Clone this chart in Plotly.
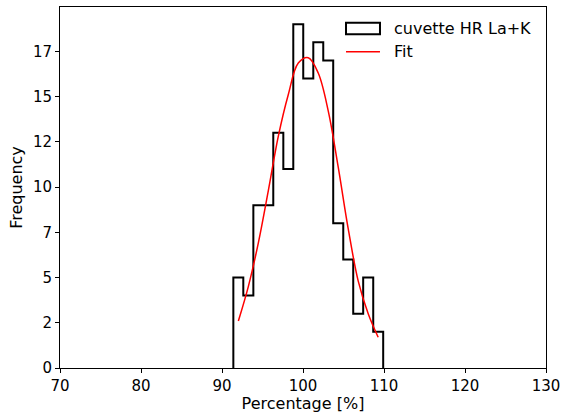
import plotly.graph_objects as go

# Histogram data
bin_edges = [91.4, 92.63, 93.87, 95.1, 96.33, 97.57, 98.8, 100.03, 101.27,
             102.5, 103.73, 104.97, 106.2, 107.43, 108.67, 109.9]
counts = [5, 4, 9, 9, 13, 11, 19, 16, 18, 17, 8, 6, 3, 5, 2]

# Fit curve, read at bin centres
fit_x = [92.02, 93.25, 94.48, 95.72, 96.95, 98.18, 99.42, 100.65, 101.88,
         103.12, 104.35, 105.58, 106.82, 108.05, 109.28]
fit_y = [2.6, 4.5, 6.9, 9.8, 12.8, 15.1, 16.85, 17.15, 16.3,
         14.2, 11.1, 7.7, 4.8, 3.0, 1.7]

y_tickvals = [0, 2.5, 5, 7.5, 10, 12.5, 15, 17.5]
y_ticktext = ["0", "2", "5", "7", "10", "12", "15", "17"]
x_tickvals = [70, 80, 90, 100, 110, 120, 130]
legend_labels = ["cuvette HR La+K", "Fit"]

# step outline
sx, sy = [bin_edges[0]], [0]
for i, c in enumerate(counts):
    sx += [bin_edges[i], bin_edges[i + 1]]
    sy += [c, c]
sx.append(bin_edges[-1])
sy.append(0)

fig = go.Figure()
fig.add_trace(go.Scatter(x=sx, y=sy, mode="lines",
                         line=dict(color="black", width=2),
                         name=legend_labels[0], showlegend=False))
fig.add_trace(go.Scatter(x=fit_x, y=fit_y, mode="lines",
                         line=dict(color="red", width=1.5, shape="spline"),
                         name=legend_labels[1], showlegend=False))

# manual legend (matplotlib style, no frame)
fig.add_shape(type="rect", xref="paper", yref="paper",
              x0=0.5885, x1=0.6584, y0=0.9244, y1=0.9565,
              line=dict(color="black", width=2), fillcolor="rgba(0,0,0,0)")
fig.add_shape(type="line", xref="paper", yref="paper",
              x0=0.5885, x1=0.6584, y0=0.8762, y1=0.8762,
              line=dict(color="red", width=1.5))
fig.add_annotation(xref="paper", yref="paper", x=0.6831, y=0.9404,
                   xanchor="left", yanchor="middle", showarrow=False,
                   text=legend_labels[0], font=dict(size=16, color="black"))
fig.add_annotation(xref="paper", yref="paper", x=0.6831, y=0.8762,
                   xanchor="left", yanchor="middle", showarrow=False,
                   text=legend_labels[1], font=dict(size=16, color="black"))

axis_common = dict(showline=True, linecolor="black", linewidth=1, mirror=True,
                   ticks="outside", ticklen=4, tickcolor="black",
                   showgrid=False, zeroline=False,
                   tickfont=dict(size=15, color="black"))
fig.update_xaxes(range=[70, 130], tickvals=x_tickvals,
                 title=dict(text="Percentage [%]", font=dict(size=16, color="black"), standoff=2),
                 **axis_common)
fig.update_yaxes(range=[0, 19.95], tickvals=y_tickvals, ticktext=y_ticktext,
                 title=dict(text="Frequency", font=dict(size=16, color="black"), standoff=6),
                 **axis_common)

fig.update_layout(width=561, height=413,
                  margin=dict(l=60, r=15, t=7, b=45, autoexpand=False),
                  paper_bgcolor="white", plot_bgcolor="white",
                  font=dict(family="DejaVu Sans", color="black"),
                  showlegend=False)

fig.write_html("out.html", config={"displayModeBar": False},
               post_script="document.body.style.margin='0';document.body.style.padding='0';")
